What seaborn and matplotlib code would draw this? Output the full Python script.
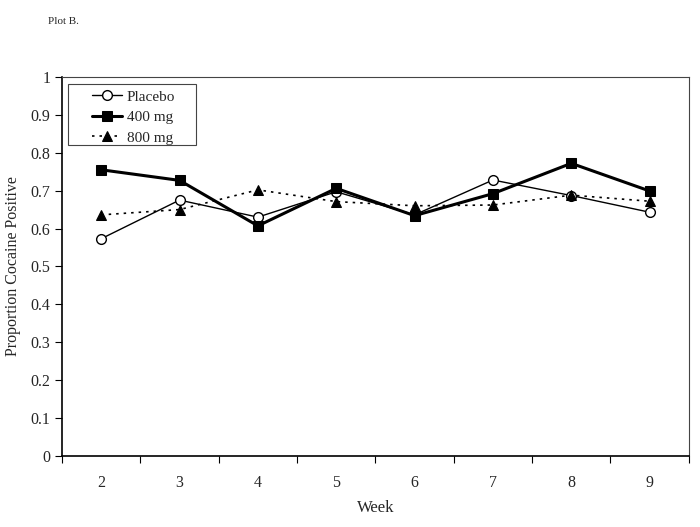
import matplotlib
matplotlib.use('Agg')
import matplotlib.pyplot as plt
import numpy as np
import pandas as pd
import seaborn as sns
from matplotlib.patches import Rectangle
from matplotlib.ticker import FixedLocator, NullFormatter, FixedFormatter

weeks = ['2', '3', '4', '5', '6', '7', '8', '9']
placebo = [0.573, 0.675, 0.630, 0.697, 0.636, 0.728, 0.687, 0.643]
mg400 = [0.755, 0.727, 0.607, 0.706, 0.634, 0.692, 0.772, 0.699]
mg800 = [0.636, 0.650, 0.702, 0.671, 0.660, 0.662, 0.688, 0.672]

sns.set_style('ticks')
plt.rcParams['font.family'] = ['Liberation Serif', 'DejaVu Serif']

df = pd.DataFrame({'pos': np.arange(len(weeks)), 'Placebo': placebo,
                   '400 mg': mg400, '800 mg': mg800})

fig = plt.figure(figsize=(7, 5.27), dpi=100)
ax = fig.add_axes([0.0886, 0.135, 0.8954, 0.719])

sns.lineplot(data=df, x='pos', y='Placebo', ax=ax, color='black', lw=1,
             marker='o', markersize=7, markerfacecolor='white',
             markeredgecolor='black', markeredgewidth=1, label='Placebo')
sns.lineplot(data=df, x='pos', y='400 mg', ax=ax, color='black', lw=2.2,
             marker='s', markersize=6.5, markerfacecolor='black',
             markeredgecolor='black', label='400 mg')
sns.lineplot(data=df, x='pos', y='800 mg', ax=ax, color='black', lw=1.2,
             linestyle=(0, (1.5, 3)), marker='^', markersize=7,
             markerfacecolor='black', markeredgecolor='black', label='800 mg')

ax.set_xlim(-0.5, len(weeks) - 0.5)
ax.set_ylim(0, 1)
ax.set_yticks(np.arange(0, 1.01, 0.1))
ax.set_yticklabels(['0'] + [f'{v:.1f}' for v in np.arange(0.1, 0.95, 0.1)] + ['1'])
ax.xaxis.set_major_locator(FixedLocator(np.arange(-0.5, len(weeks), 1)))
ax.xaxis.set_major_formatter(NullFormatter())
ax.xaxis.set_minor_locator(FixedLocator(np.arange(len(weeks))))
ax.xaxis.set_minor_formatter(FixedFormatter(weeks))
ax.tick_params(axis='x', which='minor', length=0, pad=14, labelsize=11.5)
ax.tick_params(axis='x', which='major', length=5, direction='out', color='black')
ax.tick_params(axis='y', length=5, direction='out', color='black', labelsize=11.5)

for s in ax.spines.values():
    s.set_color('#444444')
    s.set_linewidth(0.8)
for side in ['bottom', 'left']:
    ax.spines[side].set_color('black')
    ax.spines[side].set_linewidth(1.2)

ax.set_xlabel('Week', fontsize=12, labelpad=6)
ax.set_ylabel('Proportion Cocaine Positive', fontsize=11.5, labelpad=7)

# legend box drawn separately, entries placed inside it
ax.add_patch(Rectangle((0.0096, 0.82), 0.204, 0.162, transform=ax.transAxes,
                       facecolor='white', edgecolor='#444444', lw=0.8,
                       zorder=4))
leg = ax.legend(loc='upper left', bbox_to_anchor=(0.04, 0.978), borderaxespad=0,
                fontsize=11, frameon=False, handlelength=2.0,
                handletextpad=0.3, borderpad=0.3, labelspacing=0.45)
leg.set_zorder(5)

fig.text(0.068, 0.955, 'Plot B.', fontsize=8)

fig.savefig('out.png', dpi=100)
